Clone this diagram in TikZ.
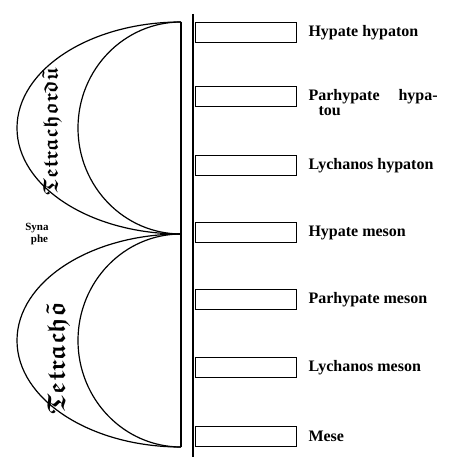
\documentclass[tikz,border=0pt]{standalone}
\usepackage{amsmath, amssymb}
\usepackage{fontspec}
\setmainfont{Liberation Serif}
\usetikzlibrary{positioning}

\begin{document}
\begin{tikzpicture}[
    x=1pt, y=-1pt,
    string/.style={draw, rectangle, line width=1.3pt, minimum width=101pt, minimum height=20pt, inner sep=0pt, anchor=north west},
    note/.style={font=\fontsize{16}{15}\selectfont\bfseries, inner sep=0pt, align=left},
    bow/.style={line width=1.2pt},
    gothic/.style={rotate=90, inner sep=0pt}
  ]
  \useasboundingbox (0,0) rectangle (463,473);

  % Ends of the tetrachords
  \coordinate (top) at (181,22);
  \coordinate (syn) at (181,234);
  \coordinate (bot) at (181,447);
  \coordinate (ruletop) at (193,14);
  \coordinate (rulebot) at (193,457);

  % Strings
  \node [string] (hh) at (195,22) {};
  \node [string] (ph) at (195,86) {};
  \node [string] (lh) at (195,155) {};
  \node [string] (hm) at (195,222) {};
  \node [string] (pm) at (195,289) {};
  \node [string] (lm) at (195,357) {};
  \node [string] (me) at (195,426) {};

  % Names
  \node [note, right=11pt of hh] (hhname) {Hypate hypaton};
  \node [note, right=11pt of ph, anchor=north west, yshift=7pt] (phname) {Parhypate\hspace{19pt}hypa-\\\hspace*{10pt}tou};
  \node [note, right=11pt of lh] (lhname) {Lychanos hypaton};
  \node [note, right=11pt of hm] (hmname) {Hypate meson};
  \node [note, right=11pt of pm] (pmname) {Parhypate meson};
  \node [note, right=11pt of lm] (lmname) {Lychanos meson};
  \node [note, right=11pt of me] (mename) {Mese};

  % Lines
  \draw [line width=1.4pt] (top) -- (bot);
  \draw [line width=1.3pt] (ruletop) -- (rulebot);

  % Tetrachords
  \draw [bow] (top) arc [start angle=90, end angle=270, x radius=164pt, y radius=106pt];
  \draw [bow] (top) arc [start angle=90, end angle=270, x radius=103pt, y radius=106pt];
  \draw [bow] (syn) arc [start angle=90, end angle=270, x radius=164pt, y radius=106.5pt];
  \draw [bow] (syn) arc [start angle=90, end angle=270, x radius=103pt, y radius=106.5pt];

  \node [gothic, scale=2.1] (upper) at (52,132) {$\boldsymbol{\mathfrak{Tetrachord}\tilde{\mathfrak{u}}}$};
  \node [gothic, scale=2.55] (lower) at (58,358) {$\boldsymbol{\mathfrak{Tetrach}\tilde{\mathfrak{o}}}$};
  \node [font=\fontsize{11}{12}\selectfont\bfseries, align=center, inner sep=0pt] (synaphe) at (37,234) {Syna\\\hspace*{5pt}phe};
\end{tikzpicture}
\end{document}
